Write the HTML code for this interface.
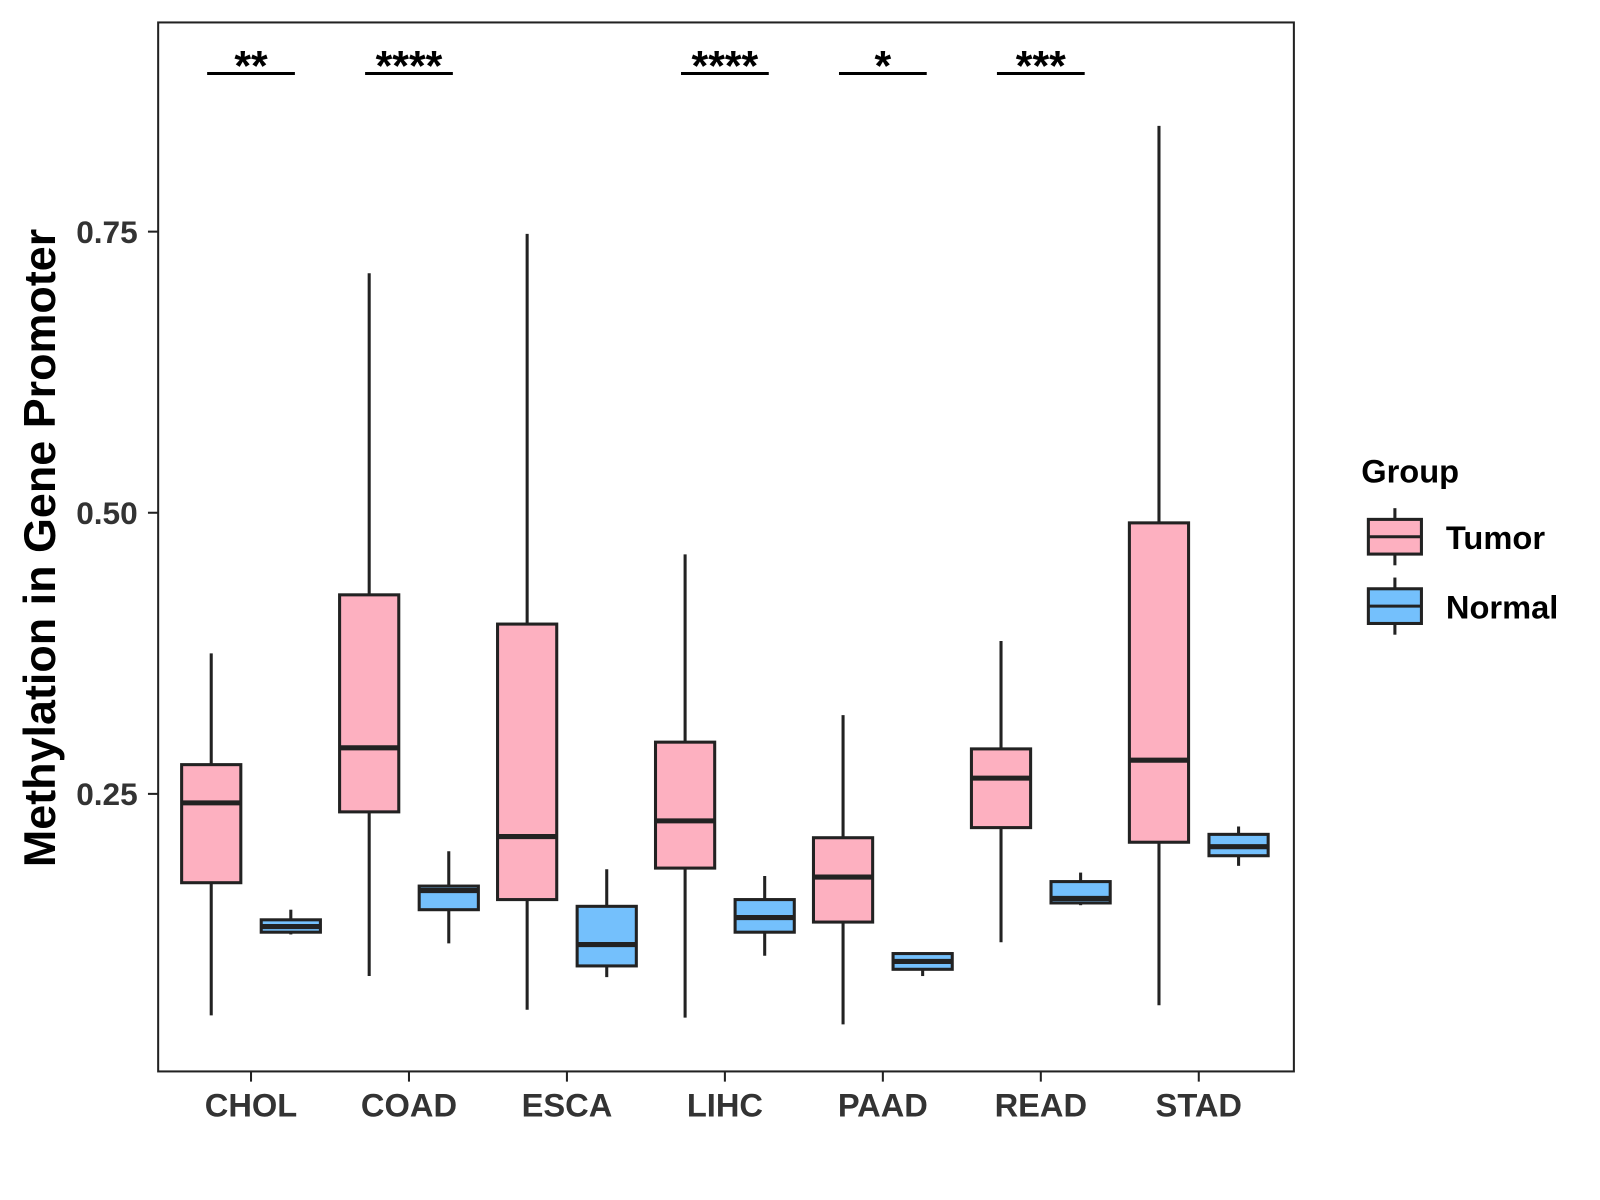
<!DOCTYPE html>
<html><head><meta charset="utf-8"><style>
html,body{margin:0;padding:0;background:#fff;}
svg{display:block;font-family:"Liberation Sans",Arial,sans-serif;}
</style></head><body>
<svg id="chart" width="1600" height="1200" viewBox="0 0 1568 1176" xmlns="http://www.w3.org/2000/svg">
<rect x="155" y="22" width="1113" height="1028" fill="#fff" stroke="#222" stroke-width="2"/>
<g id="marks"></g>
<g id="axes"></g>
<text x="54" y="537" transform="rotate(-90 54 537)" text-anchor="middle" font-size="44" font-weight="bold" fill="#000">Methylation in Gene Promoter</text>
<g>
<text x="1334" y="473" font-size="32" font-weight="bold" fill="#000">Group</text>
<g>
<line x1="1367" y1="498" x2="1367" y2="554" stroke="#222" stroke-width="3"/>
<rect x="1341" y="509" width="52" height="34" fill="#FDB0C0" stroke="#222" stroke-width="3"/>
<line x1="1341" y1="526" x2="1393" y2="526" stroke="#222" stroke-width="3"/>
<text x="1417" y="538" font-size="32" font-weight="bold" fill="#000">Tumor</text>
</g>
<g>
<line x1="1367" y1="566" x2="1367" y2="622" stroke="#222" stroke-width="3"/>
<rect x="1341" y="577" width="52" height="34" fill="#74C0FC" stroke="#222" stroke-width="3"/>
<line x1="1341" y1="594" x2="1393" y2="594" stroke="#222" stroke-width="3"/>
<text x="1417" y="606" font-size="32" font-weight="bold" fill="#000">Normal</text>
</g>
</g>
</svg>
<script>
const categories=["CHOL","COAD","ESCA","LIHC","PAAD","READ","STAD"];
// [low, q1, median, q3, high]
const tumorStats=[[0.053,0.171,0.242,0.276,0.375],[0.088,0.234,0.291,0.427,0.713],[0.058,0.156,0.212,0.401,0.748],[0.051,0.184,0.226,0.296,0.463],[0.045,0.136,0.176,0.211,0.320],[0.118,0.220,0.264,0.290,0.386],[0.062,0.207,0.280,0.491,0.844]];
const normalStats=[[0.125,0.127,0.132,0.138,0.147],[0.117,0.147,0.164,0.168,0.199],[0.087,0.097,0.116,0.150,0.183],[0.106,0.127,0.140,0.156,0.177],[0.088,0.094,0.101,0.108,0.108],[0.151,0.153,0.157,0.172,0.180],[0.186,0.195,0.203,0.214,0.221]];
const significance=["**","****","","****","*","***",""];
const yTicks=[0.25,0.50,0.75];
const yTickLabels=["0.25","0.50","0.75"];

const NS="http://www.w3.org/2000/svg";
function y(v){return 778-(v-0.25)*1102;}
function x(i){return 246+i*154.8;}
function mk(tag,attrs,parent){const e=document.createElementNS(NS,tag);for(const k in attrs)e.setAttribute(k,attrs[k]);parent.appendChild(e);return e;}
const marks=document.getElementById('marks'),axes=document.getElementById('axes');
function box(cx,s,fill,name){
  const g=mk('g',{},marks);
  
  
  const w=58;
  mk('line',{x1:cx,x2:cx,y1:y(s[4]),y2:y(s[0]),stroke:'#222','stroke-width':3},g);
  mk('rect',{x:cx-w/2,y:y(s[3]),width:w,height:y(s[1])-y(s[3]),fill:fill,stroke:'#222','stroke-width':3},g);
  mk('line',{x1:cx-w/2,x2:cx+w/2,y1:y(s[2]),y2:y(s[2]),stroke:'#222','stroke-width':5},g);
}
categories.forEach((c,i)=>{
  box(x(i)-39,tumorStats[i],'#FDB0C0','box-tumor-'+c.toLowerCase());
  box(x(i)+39,normalStats[i],'#74C0FC','box-normal-'+c.toLowerCase());
  mk('line',{x1:x(i),x2:x(i),y1:1050,y2:1060,stroke:'#222','stroke-width':2},axes);
  const t=mk('text',{x:x(i),y:1094,'text-anchor':'middle','font-size':32,'font-weight':'bold',fill:'#333'},axes);
  
  
  t.textContent=c;
  if(significance[i]){
    const g=mk('g',{},marks);
    
    
    const s=mk('text',{x:x(i),y:79,'text-anchor':'middle','font-size':42,'font-weight':'bold',fill:'#000'},g);
    s.textContent=significance[i];
    mk('line',{x1:x(i)-43,x2:x(i)+43,y1:72,y2:72,stroke:'#000','stroke-width':3},g);
  }
});
yTicks.forEach((v,i)=>{
  mk('line',{x1:145,x2:155,y1:y(v),y2:y(v),stroke:'#222','stroke-width':2},axes);
  const t=mk('text',{x:135,y:y(v)+11,'text-anchor':'end','font-size':31,'font-weight':'bold',fill:'#333'},axes);
  
  
  t.textContent=yTickLabels[i];
});
</script>
</body></html>
